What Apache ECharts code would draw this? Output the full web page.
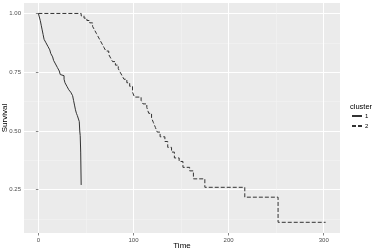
<!DOCTYPE html>
<html>
<head>
<meta charset="UTF-8">
<script src="https://cdn.jsdelivr.net/npm/echarts@6/dist/echarts.min.js"></script>
<style>
  html,body{margin:0;padding:0;background:#fff;}
  #chart{width:373px;height:251px;}
</style>
</head>
<body>
<div id="chart"></div>
<script>
// cluster 1 (solid)
var time1 = [0, 2, 3, 4, 5, 6, 8, 10, 12, 13, 15, 16, 18, 20, 22, 23, 25, 27, 28, 30, 32, 34, 36, 37, 38, 39, 40, 41, 43, 43.5, 44, 44.5, 45];
var surv1 = [1.0, 0.97, 0.95, 0.93, 0.91, 0.89, 0.875, 0.86, 0.845, 0.83, 0.815, 0.80, 0.785, 0.77, 0.755, 0.74, 0.735, 0.72, 0.705, 0.69, 0.675, 0.665, 0.65, 0.63, 0.61, 0.59, 0.575, 0.565, 0.54, 0.50, 0.48, 0.41, 0.27];
// cluster 2 (dashed)
var time2 = [0, 45, 48, 51, 54, 57, 59, 61, 63, 65, 67, 69, 71, 74, 76, 78, 81, 84, 86, 88, 90, 93, 96, 99, 101, 108, 110, 114, 116, 119, 121, 123, 125, 128, 133, 136, 140, 143, 148, 152, 159, 163, 175, 217, 252, 302];
var surv2 = [1.0, 0.99, 0.98, 0.97, 0.96, 0.945, 0.93, 0.915, 0.90, 0.885, 0.87, 0.855, 0.84, 0.825, 0.81, 0.795, 0.78, 0.765, 0.75, 0.735, 0.72, 0.705, 0.69, 0.665, 0.644, 0.63, 0.615, 0.60, 0.575, 0.555, 0.535, 0.515, 0.495, 0.475, 0.455, 0.43, 0.41, 0.385, 0.37, 0.345, 0.33, 0.296, 0.26, 0.218, 0.111, 0.111];

var xTicks = [0, 100, 200, 300];
var xMinor = [50, 150, 250];
var yTicks = [0.25, 0.5, 0.75, 1.0];
var yMinor = [0.125, 0.375, 0.625, 0.875];

function pairs(t, s){
    var out = [];
    for (var i = 0; i < t.length; i++) out.push([t[i], s[i]]);
    return out;
}

var chart = echarts.init(document.getElementById('chart'));
var font = 'Liberation Sans, Arial, sans-serif';
var xMin = -15.1, xMax = 317.1, yMin = 0.0655, yMax = 1.0445;

chart.setOption({
    animation: false,
    backgroundColor: '#fff',
    grid: {left: 24, right: 33, top: 3, bottom: 18, show: true, backgroundColor: '#EBEBEB', borderWidth: 0,
        containLabel: false, outerBoundsMode: 'none'},
    xAxis: [{
        type: 'value', min: xMin, max: xMax,
        name: 'Time', nameLocation: 'middle', nameGap: 9, nameMoveOverlap: false,
        nameTextStyle: {fontFamily: font, fontSize: 8, color: '#000'},
        axisLine: {show: false},
        axisTick: {show: true, length: 2.5, customValues: xTicks, lineStyle: {color: '#333', width: 0.6}},
        axisLabel: {customValues: xTicks, fontFamily: font, fontSize: 6, color: '#4D4D4D', margin: 4},
        splitLine: {show: true, lineStyle: {color: '#fff', width: 1}}
    }, {
        type: 'value', min: xMin, max: xMax, position: 'bottom',
        axisLine: {show: false}, axisLabel: {show: false},
        axisTick: {show: false, customValues: xMinor},
        splitLine: {show: true, lineStyle: {color: '#F5F5F5', width: 0.5}}
    }],
    yAxis: [{
        type: 'value', min: yMin, max: yMax,
        name: 'Survival', nameLocation: 'middle', nameGap: 15, nameRotate: 90, nameMoveOverlap: false,
        nameTextStyle: {fontFamily: font, fontSize: 8, color: '#000'},
        axisLine: {show: false},
        axisTick: {show: true, length: 2.5, customValues: yTicks, lineStyle: {color: '#333', width: 0.6}},
        axisLabel: {customValues: yTicks, fontFamily: font, fontSize: 6, color: '#4D4D4D', margin: 3,
            formatter: function(v){ return v.toFixed(2); }},
        splitLine: {show: true, lineStyle: {color: '#fff', width: 1}}
    }, {
        type: 'value', min: yMin, max: yMax, position: 'left',
        axisLine: {show: false}, axisLabel: {show: false},
        axisTick: {show: false, customValues: yMinor},
        splitLine: {show: true, lineStyle: {color: '#F5F5F5', width: 0.5}}
    }],
    legend: {
        left: 351, top: 113, orient: 'vertical', padding: 0,
        itemWidth: 10, itemHeight: 6, itemGap: 4,
        itemStyle: {opacity: 0},
        textStyle: {fontFamily: font, fontSize: 6, color: '#000', padding: [0, 0, 0, -2]},
        data: ['1', '2']
    },
    graphic: [{
        type: 'text', left: 350, top: 103,
        style: {text: 'cluster', fontFamily: font, fontSize: 7.5, fill: '#000'}
    }],
    series: [{
        name: '1', type: 'line', step: 'end', showSymbol: false, symbol: 'none',
        xAxisIndex: 0, yAxisIndex: 0,
        lineStyle: {color: '#333', width: 1, type: 'solid'},
        itemStyle: {color: '#333'},
        data: pairs(time1, surv1)
    }, {
        name: '2', type: 'line', step: 'end', showSymbol: false, symbol: 'none',
        xAxisIndex: 0, yAxisIndex: 0,
        lineStyle: {color: '#333', width: 1, type: [4, 2]},
        itemStyle: {color: '#333'},
        data: pairs(time2, surv2)
    }]
});
</script>
</body>
</html>
